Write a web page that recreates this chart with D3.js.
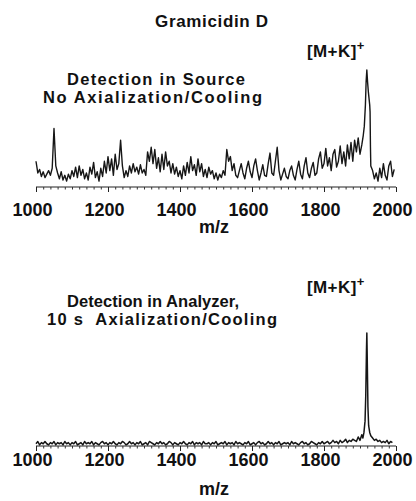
<!DOCTYPE html>
<html>
<head>
<meta charset="utf-8">
<script src="https://cdn.jsdelivr.net/npm/d3@7.9.0/dist/d3.min.js"></script>
<style>
  body { margin: 0; background: #fff; }
  svg text { font-family: "Liberation Sans", Arial, sans-serif; font-weight: bold; fill: #111; white-space: pre; }
</style>
</head>
<body>
<svg id="chart" width="416" height="501"></svg>
<script>
const tickLabels = [1000, 1200, 1400, 1600, 1800, 2000];

// top spectrum (detection in source), relative intensity %, every 5 m/z from 1000
const topNoiseStart = 1000;
const topNoise = [
  22, 12, 15, 9, 13, 8, 11, 14, 10, 16, 50, 18, 12, 7, 13, 6, 10, 5, 11, 7,
  14, 9, 17, 8, 18, 10, 15, 7, 12, 6, 17, 11, 21, 8, 13, 5, 16, 9, 22, 12,
  26, 14, 24, 10, 28, 15, 20, 40, 18, 8, 14, 9, 18, 12, 20, 13, 17, 11, 19, 12,
  15, 10, 30, 22, 34, 20, 32, 16, 25, 13, 28, 15, 30, 18, 22, 12, 20, 11, 17, 9,
  14, 7, 18, 10, 21, 12, 26, 14, 19, 10, 24, 13, 20, 9, 15, 8, 17, 11, 14, 7,
  12, 6, 11, 8, 14, 10, 32, 22, 26, 14, 20, 10, 8, 14, 20, 12, 7, 16, 22, 13,
  8, 18, 24, 14, 6, 12, 19, 10, 9, 20, 29, 12, 10, 22, 34, 14, 6, 11, 16, 9,
  7, 14, 18, 10, 6, 15, 22, 11, 7, 18, 25, 12, 8, 16, 21, 10, 12, 24, 30, 16,
  20, 33, 18, 25, 14, 28, 32, 17, 22, 35, 20, 30, 18, 36, 24, 38, 22, 40, 30, 42,
  28, 36
];
const topPeakMz = [1909, 1912, 1915, 1917, 1919, 1921, 1923, 1925, 1927, 1928, 1929, 1930];
const topPeakI  = [44, 52, 70, 90, 100, 90, 82, 76, 70, 64, 35, 18];
const topTailStart = 1935;
const topTail = [14, 7, 12, 5, 16, 8, 20, 10, 6, 18, 22, 9, 15];

// bottom spectrum (detection in analyzer), every 5 m/z from 1000
const botNoiseStart = 1000;
const botNoise = [
  2, 4, 1, 3, 2, 4, 2, 1, 3, 2, 4, 1, 3, 2, 3, 1, 4, 2, 3, 1,
  3, 2, 4, 1, 2, 3, 1, 4, 2, 3, 2, 4, 1, 3, 2, 1, 3, 4, 2, 3,
  1, 3, 2, 4, 2, 1, 3, 2, 4, 3, 1, 2, 4, 2, 3, 1, 3, 2, 4, 1,
  2, 3, 1, 4, 3, 2, 1, 3, 2, 4, 2, 3, 1, 2, 4, 3, 1, 3, 2, 1,
  3, 2, 4, 2, 1, 3, 2, 4, 1, 3, 2, 3, 1, 4, 2, 2, 3, 1, 3, 2,
  4, 1, 2, 3, 2, 4, 1, 3, 2, 3, 1, 4, 2, 3, 2, 1, 3, 2, 4, 1,
  2, 3, 1, 3, 4, 2, 3, 1, 2, 4, 2, 3, 1, 3, 2, 4, 1, 2, 3, 2,
  3, 1, 4, 2, 3, 2, 1, 3, 4, 2, 3, 1, 2, 4, 3, 2, 1, 3, 2, 4,
  2, 3, 4, 2, 3, 5, 3, 4, 2, 5, 3, 4, 6, 3, 5, 4, 6, 5
];
const botPeakMz = [1890, 1895, 1900, 1905, 1908, 1911, 1914, 1916, 1918, 1919, 1920, 1922, 1924, 1927, 1930, 1935, 1940];
const botPeakI  = [4, 8, 5, 10, 7, 12, 22, 45, 85, 100, 80, 35, 18, 12, 9, 7, 5];
const botTailStart = 1945;
const botTail = [6, 4, 5, 3, 4, 3, 5, 2, 4, 3];

const stepMz = 5;

function buildSeries(start, noise, peakMz, peakI, tailStart, tail) {
  const pts = noise.map((v, i) => [start + i * stepMz, v]);
  peakMz.forEach((m, i) => pts.push([m, peakI[i]]));
  tail.forEach((v, i) => pts.push([tailStart + i * stepMz, v]));
  return pts;
}

const topData = buildSeries(topNoiseStart, topNoise, topPeakMz, topPeakI, topTailStart, topTail);
const botData = buildSeries(botNoiseStart, botNoise, botPeakMz, botPeakI, botTailStart, botTail);

const svg = d3.select('#chart');
const x = d3.scaleLinear().domain([1000, 2000]).range([36, 396]);

function panel(data, axisY, topY, labelPad, mzBaseline, lineWidth) {
  const y = d3.scaleLinear().domain([0, 100]).range([axisY, topY]);

  // axis line
  svg.append('line')
    .attr('x1', x(1000)).attr('x2', x(2000))
    .attr('y1', axisY).attr('y2', axisY)
    .attr('stroke', '#222').attr('stroke-width', 1.2);

  // minor ticks
  const minor = svg.append('g')
    .attr('transform', `translate(0,${axisY})`)
    .call(d3.axisBottom(x).tickValues(d3.range(1000, 2001, 20)).tickSize(2.5).tickSizeOuter(0).tickFormat(''));
  minor.select('.domain').remove();
  minor.selectAll('line').attr('stroke', '#333');

  // major ticks + labels
  const ax = svg.append('g')
    .attr('transform', `translate(0,${axisY})`)
    .call(d3.axisBottom(x).tickValues(tickLabels).tickSize(5).tickPadding(labelPad).tickFormat(d3.format('d')));
  ax.select('.domain').remove();
  ax.selectAll('line').attr('stroke', '#222');
  ax.selectAll('text')
    .attr('dx', -4)
    .style('font-size', '18px')
    .style('font-family', '"Liberation Sans", Arial, sans-serif')
    .style('font-weight', 'bold')
    .attr('fill', '#111');

  svg.append('text')
    .attr('x', 214).attr('y', mzBaseline)
    .attr('text-anchor', 'middle')
    .style('font-size', '18px')
    .text('m/z');

  const line = d3.line().x(d => x(d[0])).y(d => y(d[1]));
  svg.append('path')
    .datum(data)
    .attr('d', line)
    .attr('fill', 'none')
    .attr('stroke', '#161616')
    .attr('stroke-width', lineWidth)
    .attr('stroke-linejoin', 'round');
}

panel(topData, 187, 70, 11, 233, 1.4);
panel(botData, 446, 333, 2, 495, 1.5);

svg.append('text')
  .attr('x', 155).attr('y', 27)
  .attr('textLength', 113).attr('lengthAdjust', 'spacing')
  .style('font-size', '17px')
  .text('Gramicidin D');

function label(lines) {
  lines.forEach(l => {
    svg.append('text')
      .attr('x', l[0]).attr('y', l[1])
      .attr('textLength', l[2]).attr('lengthAdjust', 'spacing')
      .style('font-size', '16.5px')
      .text(l[3]);
  });
}
label([[67, 85, 178, 'Detection in Source'], [43, 103, 219, 'No Axialization/Cooling']]);
label([[67, 307, 172, 'Detection in Analyzer,'], [47, 325, 230, '10 s  Axialization/Cooling']]);

function ionLabel(baseline) {
  const t = svg.append('text')
    .attr('x', 307).attr('y', baseline)
    .style('font-size', '17px')
    .style('letter-spacing', '0.4px');
  t.append('tspan').text('[M+K]');
  t.append('tspan').attr('dy', -7).style('font-size', '13px').text('+');
}
ionLabel(57);
ionLabel(293);
</script>
</body>
</html>
